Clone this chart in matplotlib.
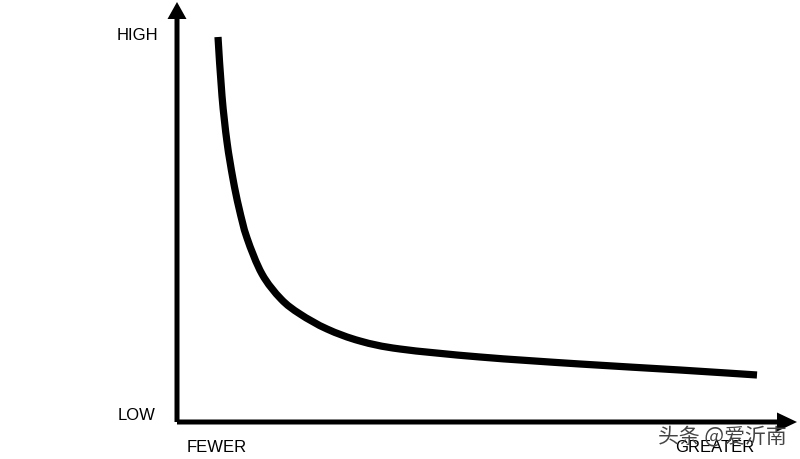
import matplotlib.pyplot as plt
from matplotlib.path import Path
from matplotlib.patches import PathPatch

# curve (units: pixels from the axis origin)
quantity = [41, 45, 50, 56, 62, 70, 85, 104, 123, 150, 183, 223, 303, 403, 503, 580]
level = [385, 326, 280, 243, 214, 184, 148, 123, 108, 93, 81, 73, 65, 58, 52, 47]

y_labels = ["LOW", "HIGH"]
x_labels = ["FEWER", "GREATER"]
watermark = "头条 @爱沂南"


def smooth_path(xs, ys):
    # Catmull-Rom through the read points, drawn as cubic bezier segments
    pts = list(zip(xs, ys))
    verts = [pts[0]]
    codes = [Path.MOVETO]
    for i in range(len(pts) - 1):
        p0 = pts[i - 1] if i > 0 else pts[i]
        p1, p2 = pts[i], pts[i + 1]
        p3 = pts[i + 2] if i + 2 < len(pts) else pts[i + 1]
        c1 = (p1[0] + (p2[0] - p0[0]) / 6, p1[1] + (p2[1] - p0[1]) / 6)
        c2 = (p2[0] - (p3[0] - p1[0]) / 6, p2[1] - (p3[1] - p1[1]) / 6)
        verts += [c1, c2, p2]
        codes += [Path.CURVE4] * 3
    return Path(verts, codes)


fig = plt.figure(figsize=(8, 4.6), dpi=100)
ax = fig.add_axes([0, 0, 1, 1])
ax.set_xlim(-177, 623)
ax.set_ylim(-37, 423)
ax.axis("off")

# axes with arrow heads
ax.arrow(0, 0, 0, 420, width=5, head_width=19, head_length=17,
         length_includes_head=True, color="black", lw=0)
ax.arrow(0, 0, 620, 0, width=5, head_width=19, head_length=20,
         length_includes_head=True, color="black", lw=0)

ax.add_patch(PathPatch(smooth_path(quantity, level), fill=False,
                       edgecolor="black", lw=5.2, capstyle="butt"))

font = ["Liberation Sans", "DejaVu Sans"]
ax.text(-40, 7, y_labels[0], ha="center", va="center", fontsize=12, family=font)
ax.text(-40, 388, y_labels[1], ha="center", va="center", fontsize=12, family=font)
ax.text(40, -25, x_labels[0], ha="center", va="center", fontsize=12, family=font)
ax.text(538, -25, x_labels[1], ha="center", va="center", fontsize=12, family=font)

ax.text(545, -13, watermark, ha="center", va="center", fontsize=15,
        color="#444444", family=["Noto Sans CJK SC", "DejaVu Sans"])

fig.savefig("out.png", dpi=100)
